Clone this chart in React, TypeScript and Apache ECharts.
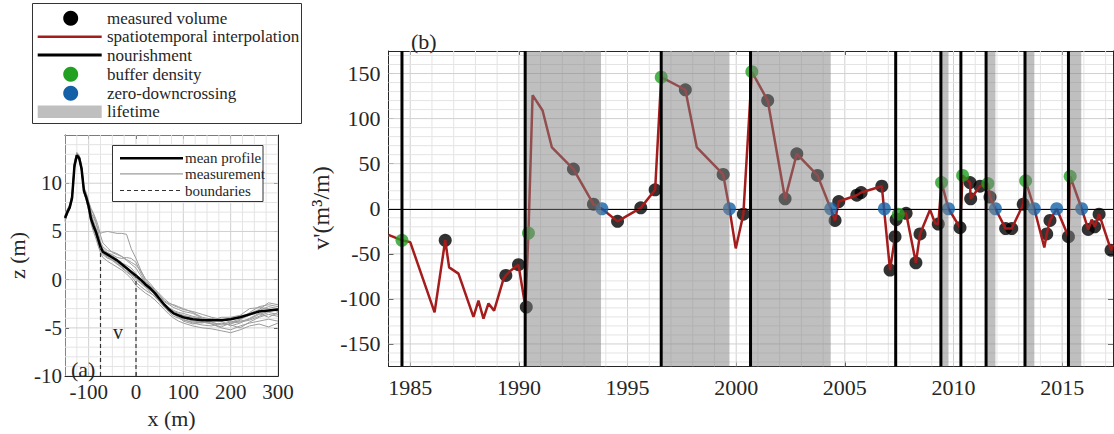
import React, { useEffect, useRef } from "react";
import * as echarts from "echarts";

// ---------- Panel (a): cross-shore profile ----------
const profileX = [-150, -145, -140, -135, -130, -125, -120, -115, -110, -105, -100, -95, -90, -85, -80, -75, -70, -60, -50, -40, -30, -20, -10, 0, 10, 20, 30, 40, 50, 60, 70, 80, 90, 100, 120, 140, 160, 180, 200, 220, 240, 260, 280, 300];
const meanProfile = [6.4, 7.0, 7.5, 8.5, 11.8, 12.9, 12.6, 11.5, 9.2, 8.5, 7.6, 6.3, 5.6, 5.0, 4.2, 3.4, 2.9, 2.6, 2.3, 2.0, 1.6, 1.2, 0.8, 0.4, 0.0, -0.5, -0.9, -1.4, -2.0, -2.6, -3.1, -3.5, -3.7, -3.9, -4.1, -4.2, -4.2, -4.2, -4.1, -3.9, -3.6, -3.3, -3.2, -3.1];
const measurement01 = [6.6, 7.2, 7.7, 8.8, 12.1, 13.1, 12.8, 11.7, 9.4, 8.8, 7.9, 7.2, 6.8, 6.0, 5.2, 4.8, 4.9, 5.0, 4.9, 4.8, 4.8, 4.7, 3.2, 2.2, 1.0, 0.0, -0.6, -1.2, -1.9, -2.5, -2.9, -3.2, -3.4, -3.5, -3.8, -4.0, -4.4, -4.7, -4.6, -4.2, -3.4, -2.8, -2.6, -2.8];
const measurement02 = [6.0, 6.8, 7.3, 8.2, 11.5, 12.7, 12.4, 11.2, 9.0, 8.2, 7.2, 5.8, 5.0, 4.3, 3.5, 2.8, 2.3, 1.9, 1.6, 1.3, 1.0, 0.6, 0.1, -0.6, -1.0, -1.4, -1.7, -2.1, -2.6, -3.1, -3.6, -4.0, -4.3, -4.5, -4.8, -5.0, -5.1, -5.3, -5.5, -5.2, -4.8, -4.6, -4.9, -4.5];
const measurement03 = [6.5, 7.1, 7.6, 8.7, 12.0, 13.0, 12.7, 11.6, 9.3, 8.7, 7.8, 6.9, 6.5, 5.9, 5.0, 3.9, 3.4, 3.0, 2.9, 2.7, 2.4, 2.0, 1.6, 1.2, 0.4, -0.3, -0.8, -1.2, -1.7, -2.3, -2.6, -2.9, -3.1, -3.3, -3.5, -4.0, -4.6, -4.9, -4.5, -4.4, -4.2, -3.8, -3.4, -3.6];
const measurement04 = [6.2, 6.9, 7.4, 8.4, 11.6, 12.8, 12.5, 11.4, 9.1, 8.4, 7.4, 6.0, 5.3, 4.6, 3.8, 3.0, 2.6, 2.2, 2.1, 1.8, 1.4, 1.1, 0.6, 0.0, -0.4, -0.8, -1.1, -1.5, -2.1, -2.8, -3.4, -3.8, -4.0, -4.2, -4.4, -4.5, -4.2, -3.9, -3.9, -3.7, -3.0, -2.9, -3.0, -3.3];
const measurement05 = [6.7, 7.3, 7.8, 9.0, 12.3, 13.2, 12.9, 11.9, 9.6, 9.0, 8.0, 7.0, 6.0, 5.3, 4.6, 3.7, 3.2, 2.8, 2.6, 2.3, 2.2, 2.3, 2.2, 1.8, 0.7, -0.2, -0.7, -1.0, -1.6, -2.2, -2.5, -2.6, -2.8, -3.0, -3.4, -3.9, -4.1, -4.2, -4.0, -3.8, -3.5, -3.1, -2.4, -2.6];
const measurement06 = [6.3, 7.0, 7.5, 8.5, 11.7, 12.8, 12.6, 11.5, 9.2, 8.6, 7.3, 6.4, 5.7, 5.1, 4.4, 3.5, 3.0, 2.5, 2.2, 1.9, 1.7, 1.5, 1.2, 0.6, 0.1, -0.6, -1.0, -1.6, -2.3, -2.9, -3.3, -3.6, -3.9, -4.1, -4.5, -4.7, -4.8, -4.5, -4.7, -5.0, -4.4, -3.9, -3.6, -3.8];
const measurement07 = [6.5, 7.1, 7.6, 8.6, 11.9, 12.9, 12.7, 11.6, 9.3, 8.7, 7.6, 6.6, 6.1, 5.4, 4.4, 3.6, 3.1, 2.7, 2.5, 2.1, 1.8, 1.2, 0.9, 0.2, -0.3, -0.7, -1.3, -1.8, -2.3, -2.7, -3.0, -3.3, -3.5, -3.7, -3.9, -4.1, -4.0, -4.3, -4.8, -4.5, -4.0, -3.5, -3.9, -3.4];
const measurement08 = [6.1, 6.8, 7.4, 8.3, 11.6, 12.7, 12.5, 11.3, 9.0, 8.3, 7.1, 6.2, 5.4, 4.7, 4.0, 3.2, 2.7, 2.4, 2.0, 1.7, 1.2, 0.8, 0.4, -0.3, -0.7, -1.1, -1.4, -1.7, -2.2, -2.6, -3.2, -3.6, -3.9, -4.3, -4.6, -4.4, -4.6, -5.0, -5.2, -4.8, -4.5, -4.3, -4.1, -4.3];
const measurement09 = [6.6, 7.2, 7.7, 8.9, 12.2, 13.1, 12.8, 11.8, 9.5, 8.9, 8.1, 7.4, 6.9, 6.3, 5.6, 4.6, 3.8, 3.3, 2.8, 2.6, 2.4, 2.1, 1.8, 1.5, 0.9, 0.1, -0.4, -1.0, -1.5, -2.0, -2.4, -2.7, -2.9, -3.1, -3.3, -3.6, -3.9, -4.1, -4.4, -4.1, -3.7, -3.2, -2.8, -3.0];
const measurement10 = [6.3, 7.0, 7.5, 8.5, 11.8, 12.9, 12.6, 11.5, 9.2, 8.5, 7.5, 6.3, 5.6, 4.8, 4.0, 3.3, 2.8, 2.3, 2.0, 1.6, 1.3, 0.9, 0.5, 0.3, -0.2, -0.6, -1.1, -1.6, -2.1, -2.7, -3.1, -3.5, -3.8, -4.0, -4.3, -4.4, -4.5, -4.6, -4.4, -4.3, -4.1, -3.6, -3.3, -3.1];
const boundaryX = [-75, 0];
const boundaryTop = [3.4, 0.4];
const profileTicksX = [-100, 0, 100, 200, 300];
const profileTicksZ = [-10, -5, 0, 5, 10];

// ---------- Panel (b): volume anomaly time series ----------
const measuredVolume: [number, number][] = [
  [1986.61, -35], [1989.4, -74], [1989.98, -62], [1990.34, -109], [1992.51, 44], [1993.43, 5], [1994.54, -14],
  [1995.61, 1], [1996.27, 21], [1997.66, 132], [1999.4, 38], [2000.33, -6], [2001.45, 120], [2002.25, 11],
  [2002.79, 61], [2003.74, 37], [2004.55, -13], [2004.72, 8], [2005.55, 15], [2005.75, 18], [2006.7, 25],
  [2007.08, -68], [2007.31, -31], [2007.36, -12], [2007.82, -5], [2008.27, -60], [2008.46, -28], [2009.3, -17],
  [2010.3, -21], [2010.76, 29], [2010.79, 11], [2011.22, 25], [2011.68, 13], [2012.4, -22], [2012.68, -22],
  [2013.21, 5], [2014.29, -28], [2014.44, -13], [2015.29, -31], [2016.2, -23], [2016.5, -20], [2016.7, -6],
  [2017.25, -46],
];
const interpolation: [number, number][] = [
  [1984.0, -29], [1984.62, -35], [1985.0, -37], [1986.12, -115], [1986.61, -35], [1986.79, -65], [1987.22, -72],
  [1987.91, -120], [1988.14, -102], [1988.37, -122], [1988.6, -105], [1988.86, -113], [1989.29, -78], [1989.4, -74],
  [1989.6, -69], [1989.98, -62], [1990.3, -109], [1990.44, -27], [1990.63, 126], [1991.09, 109], [1991.52, 68],
  [1992.51, 44], [1993.43, 5], [1993.82, 0], [1994.54, -14], [1995.61, 1], [1996.27, 21], [1996.55, 146],
  [1997.66, 132], [1998.19, 68], [1999.4, 38], [1999.69, 0], [1999.98, -44], [2000.33, -6], [2000.72, 152],
  [2001.45, 120], [2002.25, 11], [2002.79, 61], [2003.74, 37], [2004.35, 0], [2004.55, -13], [2004.72, 8],
  [2005.55, 15], [2005.75, 18], [2006.7, 25], [2007.08, -68], [2007.31, -31], [2007.36, -12], [2007.46, -6],
  [2007.82, -5], [2008.27, -60], [2008.46, -28], [2008.92, -1], [2009.15, -16], [2009.3, -17], [2009.45, 29],
  [2009.77, 0], [2010.3, -21], [2010.42, 37], [2010.76, 29], [2010.79, 11], [2011.22, 25], [2011.58, 28],
  [2011.68, 13], [2011.93, 0], [2012.4, -22], [2012.68, -22], [2013.21, 5], [2013.32, 31], [2013.72, 0],
  [2014.18, -43], [2014.29, -28], [2014.44, -13], [2014.75, 0], [2015.29, -31], [2015.37, 36], [2015.9, 0],
  [2016.2, -23], [2016.36, -12], [2016.5, -20], [2016.7, -6], [2017.25, -46], [2017.34, -40],
];
const bufferDensity: [number, number][] = [
  [1984.62, -35], [1990.44, -27], [1996.55, 146], [2000.72, 152], [2007.46, -6], [2009.45, 29],
  [2010.42, 37], [2011.58, 28], [2013.32, 31], [2015.37, 36],
];
const zeroDowncrossingYears = [1993.82, 1999.69, 2004.35, 2006.82, 2009.77, 2011.93, 2013.72, 2014.75, 2015.9];
const nourishmentYears = [1984.62, 1990.29, 1996.55, 2000.66, 2007.34, 2009.42, 2010.34, 2011.5, 2013.29, 2015.29];
const lifetimeStart = [1990.32, 1996.6, 2000.7, 2009.44, 2011.55, 2013.32, 2015.35];
const lifetimeEnd = [1993.78, 1999.69, 2004.35, 2009.77, 2011.93, 2013.72, 2015.88];
const yearTicks = [1985, 1990, 1995, 2000, 2005, 2010, 2015];
const volumeTicks = [-150, -100, -50, 0, 50, 100, 150];

const YEAR_MIN = 1984;
const YEAR_MAX = 2017.34;
const VOL_MIN = -175;
const VOL_MAX = 175;
const X_MIN = -150;
const X_MAX = 300;
const Z_MIN = -10;
const Z_MAX = 15;

const FONT = "Liberation Serif, DejaVu Serif, serif";
const TXT = "#262626";
const RED = "#a51c1c";
const GREEN = "#22a022";
const BLUE = "#1461a8";
const SHADE = "rgba(128,128,128,0.5)";
const MINOR = "#e4e4e4";
const MAJOR = "#d0d0d0";

// grid line positions (axis helper lines, not data)
function steps(a: number, b: number, s: number) {
  const out: number[] = [];
  for (let v = a; v <= b + 1e-9; v += s) out.push(Math.round(v * 1000) / 1000);
  return out;
}

function gridSeries(
  xIdx: number,
  yIdx: number,
  vertical: number[],
  vMajor: (v: number) => boolean,
  horizontal: number[],
  hMajor: (v: number) => boolean,
  xr: [number, number],
  yr: [number, number]
) {
  const data: any[] = [];
  vertical.forEach((v) => data.push([v, 0, 0, vMajor(v) ? 1 : 0]));
  horizontal.forEach((h) => data.push([xr[0], h, 1, hMajor(h) ? 1 : 0]));
  return {
    type: "custom",
    xAxisIndex: xIdx,
    yAxisIndex: yIdx,
    silent: true,
    clip: true,
    z: 1,
    data,
    renderItem: (params: any, api: any) => {
      const isH = api.value(2) === 1;
      const major = api.value(3) === 1;
      let p1, p2;
      if (isH) {
        p1 = api.coord([xr[0], api.value(1)]);
        p2 = api.coord([xr[1], api.value(1)]);
      } else {
        p1 = api.coord([api.value(0), yr[0]]);
        p2 = api.coord([api.value(0), yr[1]]);
      }
      return {
        type: "line",
        shape: { x1: p1[0], y1: p1[1], x2: p2[0], y2: p2[1] },
        style: { stroke: major ? MAJOR : MINOR, lineWidth: 1 },
      };
    },
  };
}

export default function App() {
  const ref = useRef<HTMLDivElement>(null);

  useEffect(() => {
    if (!ref.current) return;
    const chart = echarts.init(ref.current, null, { renderer: "svg" });

    const measurements = [
      measurement01, measurement02, measurement03, measurement04, measurement05,
      measurement06, measurement07, measurement08, measurement09, measurement10,
    ];

    const fmt = (v: number) => `${v}`;
    const tickLabelA = { fontFamily: FONT, fontSize: 21, color: TXT, formatter: fmt };
    const tickLabelB = { fontFamily: FONT, fontSize: 22, color: TXT, formatter: fmt };

    const series: any[] = [];
    series.push(
      gridSeries(
        0, 0,
        steps(X_MIN, X_MAX, 25), (v) => v % 100 === 0,
        steps(Z_MIN, Z_MAX, 1), (v) => v % 5 === 0,
        [X_MIN, X_MAX], [Z_MIN, Z_MAX]
      )
    );
    series.push(
      gridSeries(
        1, 1,
        steps(1985, 2017, 1), (v) => v % 5 === 0,
        steps(-170, 170, 10), (v) => v % 50 === 0,
        [YEAR_MIN, YEAR_MAX], [VOL_MIN, VOL_MAX]
      )
    );

    measurements.forEach((m) => {
      series.push({
        type: "line",
        name: "measurement",
        xAxisIndex: 0,
        yAxisIndex: 0,
        data: profileX.map((x, i) => [x, m[i]]),
        symbol: "none",
        lineStyle: { color: "#9c9c9c", width: 1 },
        z: 2,
        silent: true,
      });
    });
    series.push({
      type: "line",
      name: "mean profile",
      xAxisIndex: 0,
      yAxisIndex: 0,
      data: profileX.map((x, i) => [x, meanProfile[i]]),
      symbol: "none",
      lineStyle: { color: "#000", width: 2.5 },
      z: 3,
    });
    boundaryX.forEach((bx, i) => {
      series.push({
        type: "line",
        name: "boundaries",
        xAxisIndex: 0,
        yAxisIndex: 0,
        data: [[bx, Z_MIN], [bx, boundaryTop[i]]],
        symbol: "none",
        lineStyle: { color: "#333", width: 1.2, type: [4, 3] },
        z: 4,
      });
    });

    // Panel b
    series.push({
      type: "scatter",
      name: "measured volume",
      xAxisIndex: 1,
      yAxisIndex: 1,
      data: measuredVolume,
      symbolSize: 13,
      itemStyle: { color: "#000" },
      z: 3,
    });
    series.push({
      type: "line",
      name: "spatiotemporal interpolation",
      xAxisIndex: 1,
      yAxisIndex: 1,
      data: interpolation,
      symbol: "none",
      lineStyle: { color: RED, width: 2.5 },
      z: 4,
      markLine: {
        silent: true,
        symbol: "none",
        label: { show: false },
        lineStyle: { color: "#000", width: 1, type: "solid" },
        data: [{ yAxis: 0 }],
      },
    });
    series.push({
      type: "scatter",
      name: "buffer density",
      xAxisIndex: 1,
      yAxisIndex: 1,
      data: bufferDensity,
      symbolSize: 13,
      itemStyle: { color: GREEN },
      z: 5,
    });
    series.push({
      type: "scatter",
      name: "zero-downcrossing",
      xAxisIndex: 1,
      yAxisIndex: 1,
      data: zeroDowncrossingYears.map((y) => [y, 0]),
      symbolSize: 13,
      itemStyle: { color: BLUE },
      z: 5,
    });
    series.push({
      type: "custom",
      name: "lifetime",
      xAxisIndex: 1,
      yAxisIndex: 1,
      data: lifetimeStart.map((s, i) => [s, lifetimeEnd[i]]),
      clip: true,
      silent: true,
      z: 6,
      renderItem: (params: any, api: any) => {
        const p1 = api.coord([api.value(0), VOL_MAX]);
        const p2 = api.coord([api.value(1), VOL_MIN]);
        return {
          type: "rect",
          shape: { x: p1[0], y: p1[1], width: p2[0] - p1[0], height: p2[1] - p1[1] },
          style: { fill: SHADE },
        };
      },
    });
    series.push({
      type: "custom",
      name: "nourishment",
      xAxisIndex: 1,
      yAxisIndex: 1,
      data: nourishmentYears.map((y) => [y, 0]),
      clip: true,
      silent: true,
      z: 7,
      renderItem: (params: any, api: any) => {
        const p1 = api.coord([api.value(0), VOL_MAX]);
        const p2 = api.coord([api.value(0), VOL_MIN]);
        return {
          type: "line",
          shape: { x1: p1[0], y1: p1[1], x2: p2[0], y2: p2[1] },
          style: { stroke: "#000", lineWidth: 3 },
        };
      },
    });

    const legendY = [18.3, 36.7, 55, 74.3, 93.3, 111.7];
    const legendText = [
      "measured volume",
      "spatiotemporal interpolation",
      "nourishment",
      "buffer density",
      "zero-downcrossing",
      "lifetime",
    ];
    const G = 100;
    const txt = (t: string, x: number, y: number, size: number, align = "left", rot = 0) => ({
      type: "text",
      z: G + 1,
      x,
      y,
      rotation: rot,
      style: {
        text: t,
        fontFamily: FONT,
        fontSize: size,
        fill: TXT,
        textAlign: align,
        textVerticalAlign: "middle",
      },
    });
    const graphics: any[] = [
      {
        type: "rect",
        z: G,
        shape: { x: 32.5, y: 3.5, width: 269, height: 120 },
        style: { fill: "#fff", stroke: "#333", lineWidth: 1 },
      },
      { type: "circle", z: G + 1, shape: { cx: 70.7, cy: legendY[0], r: 7.5 }, style: { fill: "#000" } },
      { type: "line", z: G + 1, shape: { x1: 37.7, y1: legendY[1], x2: 101.7, y2: legendY[1] }, style: { stroke: RED, lineWidth: 2.5 } },
      { type: "line", z: G + 1, shape: { x1: 37.7, y1: legendY[2], x2: 101.7, y2: legendY[2] }, style: { stroke: "#000", lineWidth: 3 } },
      { type: "circle", z: G + 1, shape: { cx: 70.7, cy: legendY[3], r: 7.5 }, style: { fill: GREEN } },
      { type: "circle", z: G + 1, shape: { cx: 70.7, cy: legendY[4], r: 7.5 }, style: { fill: BLUE } },
      { type: "rect", z: G + 1, shape: { x: 37.7, y: 105.5, width: 64, height: 12.5 }, style: { fill: "#bfbfbf" } },
      ...legendText.map((t, i) => txt(t, 107, legendY[i], 17)),
      // panel a legend
      {
        type: "rect",
        z: G,
        shape: { x: 112.5, y: 145.5, width: 150.5, height: 56 },
        style: { fill: "#fff", stroke: "#333", lineWidth: 1 },
      },
      { type: "line", z: G + 1, shape: { x1: 120, y1: 158.3, x2: 183, y2: 158.3 }, style: { stroke: "#000", lineWidth: 2.5 } },
      { type: "line", z: G + 1, shape: { x1: 120, y1: 173.8, x2: 183, y2: 173.8 }, style: { stroke: "#9c9c9c", lineWidth: 1.2 } },
      { type: "line", z: G + 1, shape: { x1: 120, y1: 190.5, x2: 183, y2: 190.5 }, style: { stroke: "#333", lineWidth: 1.2, lineDash: [4, 3] } },
      ...["mean profile", "measurement", "boundaries"].map((t, i) => txt(t, 185, [158.3, 173.8, 190.5][i], 15)),
      txt("(a)", 71, 369, 22),
      txt("v", 118, 332, 20, "center"),
      txt("(b)", 411, 41, 22),
      txt("v'(m³/m)", 321, 208, 24, "center", Math.PI / 2),
    ];

    const axisLine = { show: true, onZero: false, lineStyle: { color: TXT, width: 1 } };
    const option: any = {
      animation: false,
      backgroundColor: "#fff",
      grid: [
        { left: 65, top: 135, width: 213, height: 243 },
        { left: 388.5, top: 51, width: 724.5, height: 315.5 },
      ],
      xAxis: [
        {
          gridIndex: 0,
          type: "value",
          min: X_MIN,
          max: X_MAX,
          interval: 25,
          name: "x (m)",
          nameLocation: "middle",
          nameGap: 27,
          nameTextStyle: { fontFamily: FONT, fontSize: 22, color: TXT },
          axisLine,
          axisTick: { show: true, inside: true, length: 4, customValues: profileTicksX, lineStyle: { color: TXT } },
          axisLabel: { ...tickLabelA, margin: 5, customValues: profileTicksX },
          splitLine: { show: false },
        },
        {
          gridIndex: 1,
          type: "value",
          min: YEAR_MIN,
          max: YEAR_MAX,
          interval: 1,
          axisLine,
          axisTick: { show: true, inside: true, length: 5, customValues: yearTicks, lineStyle: { color: TXT } },
          axisLabel: { ...tickLabelB, margin: 10, customValues: yearTicks },
          splitLine: { show: false },
        },
        {
          gridIndex: 1,
          type: "value",
          position: "top",
          min: YEAR_MIN,
          max: YEAR_MAX,
          interval: 1,
          axisLine,
          axisTick: { show: true, inside: true, length: 5, customValues: yearTicks, lineStyle: { color: TXT } },
          axisLabel: { show: false },
          splitLine: { show: false },
        },
        {
          gridIndex: 0,
          type: "value",
          position: "top",
          min: X_MIN,
          max: X_MAX,
          interval: 25,
          axisLine,
          axisTick: { show: true, inside: true, length: 4, customValues: profileTicksX, lineStyle: { color: TXT } },
          axisLabel: { show: false },
          splitLine: { show: false },
        },
      ],
      yAxis: [
        {
          gridIndex: 0,
          type: "value",
          min: Z_MIN,
          max: Z_MAX,
          interval: 1,
          name: "z (m)",
          nameLocation: "middle",
          nameGap: 37,
          nameRotate: 90,
          nameTextStyle: { fontFamily: FONT, fontSize: 22, color: TXT },
          axisLine,
          axisTick: { show: true, inside: true, length: 4, customValues: profileTicksZ, lineStyle: { color: TXT } },
          axisLabel: { ...tickLabelA, margin: 3, customValues: profileTicksZ },
          splitLine: { show: false },
        },
        {
          gridIndex: 1,
          type: "value",
          min: VOL_MIN,
          max: VOL_MAX,
          interval: 5,
          axisLine,
          axisTick: { show: true, inside: true, length: 5, customValues: volumeTicks, lineStyle: { color: TXT } },
          axisLabel: { ...tickLabelB, margin: 8, customValues: volumeTicks },
          splitLine: { show: false },
        },
        {
          gridIndex: 1,
          type: "value",
          position: "right",
          min: VOL_MIN,
          max: VOL_MAX,
          interval: 5,
          axisLine,
          axisTick: { show: true, inside: true, length: 5, customValues: volumeTicks, lineStyle: { color: TXT } },
          axisLabel: { show: false },
          splitLine: { show: false },
        },
        {
          gridIndex: 0,
          type: "value",
          position: "right",
          min: Z_MIN,
          max: Z_MAX,
          interval: 1,
          axisLine,
          axisTick: { show: true, inside: true, length: 4, customValues: profileTicksZ, lineStyle: { color: TXT } },
          axisLabel: { show: false },
          splitLine: { show: false },
        },
      ],
      graphic: graphics,
      series,
    };

    chart.setOption(option);
    return () => chart.dispose();
  }, []);

  return (
    <div
      ref={ref}
      style={{ position: "absolute", left: 0, top: 0, width: 1114, height: 434, background: "#fff" }}
    />
  );
}
